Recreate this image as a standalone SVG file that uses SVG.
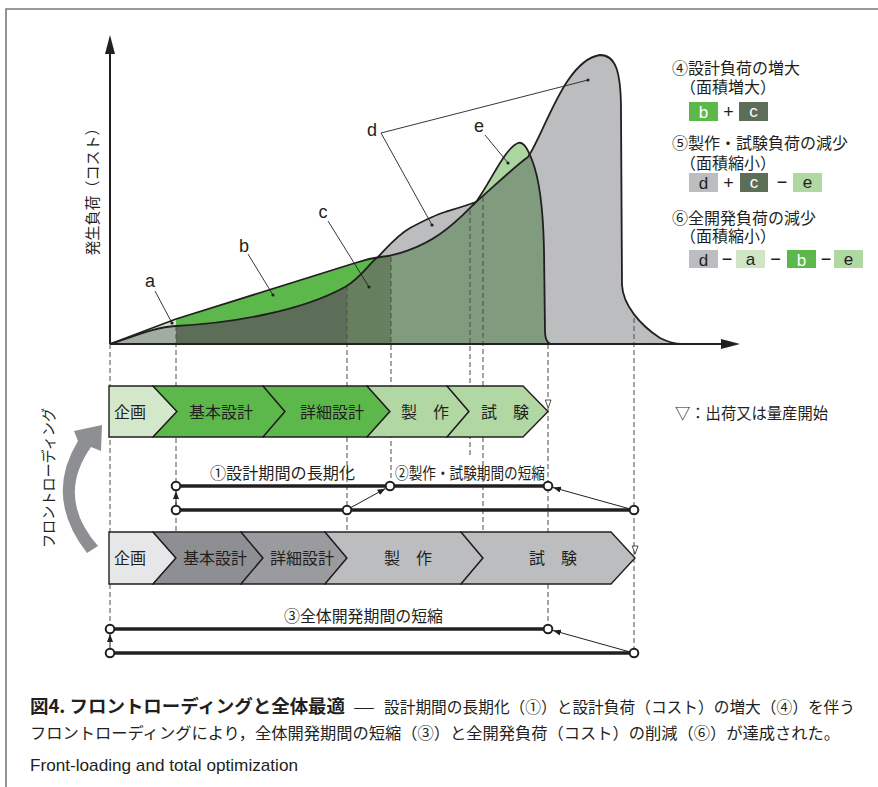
<svg xmlns="http://www.w3.org/2000/svg" width="878" height="787" viewBox="0 0 878 787">
<defs>
<style>
.jp{font-family:"Noto Sans CJK JP","Noto Sans",sans-serif;fill:#231f20}
.lat{font-family:"Liberation Sans",Arial,sans-serif;fill:#231f20}
.crv{fill:none;stroke:#231f20;stroke-width:1.8;stroke-linejoin:round}
.dash{stroke:#4d4d4f;stroke-width:1;stroke-dasharray:5 3;fill:none}
.seg{stroke:#231f20;stroke-width:1.4}
.lead{stroke:#231f20;stroke-width:0.9;fill:none}
.dot{fill:#231f20}
.thick{stroke:#231f20;stroke-width:3.5}
.pt{fill:#fff;stroke:#231f20;stroke-width:2}
.thin{stroke:#231f20;stroke-width:1;marker-end:url(#ah)}
.bx{font-size:17px;text-anchor:middle}
.op{font-family:"Liberation Sans",Arial,sans-serif;font-size:18px;fill:#231f20;text-anchor:middle}
.bar{font-size:16px;text-anchor:middle}
.lg{font-size:16px}
.tri{fill:#fff;stroke:#231f20;stroke-width:0.8}
</style>
<marker id="ah" viewBox="0 0 8 6" refX="8" refY="3" markerWidth="8" markerHeight="6" markerUnits="userSpaceOnUse" orient="auto"><path d="M0,0 L8,3 L0,6 Z" fill="#231f20"/></marker>
<clipPath id="cNew"><path d="M110,344 L176,319 L355,263 C366,259 372,258 380,257 C395,256 420,248 440,234 C455,224 465,213 476,202 C490,183 505,148 518,143 C524,141 528,150 532,160 C538,175 543,200 544,250 L545,330 C545,338 547,344 552,344 Z"/></clipPath>
<clipPath id="cOld"><path d="M110,344 C135,336 155,327 176,326 C230,323 300,312 345,287 C362,277 370,262 378,257 C386,249 396,236 410,228 C425,220 435,215 445,212 C458,208 468,205 476,202 C490,190 515,166 528,157 C545,132 565,60 600,55 C615,55 621,70 621,110 L622,285 C623,305 640,325 660,338 C668,342 675,344 682,344 Z"/></clipPath>
</defs>
<rect width="878" height="787" fill="#fff"/>
<g id="frame" stroke="#7a7a7a" stroke-width="1.6" fill="none">
<path d="M6,787 L6,9 L878,9"/>
</g>

<g id="chart">
<path d="M110,344 C135,336 155,327 176,326 C230,323 300,312 345,287 C362,277 370,262 378,257 C386,249 396,236 410,228 C425,220 435,215 445,212 C458,208 468,205 476,202 C490,190 515,166 528,157 C545,132 565,60 600,55 C615,55 621,70 621,110 L622,285 C623,305 640,325 660,338 C668,342 675,344 682,344 Z" fill="#bcbdbf"/>
<g clip-path="url(#cNew)">
<rect x="105" y="100" width="71" height="250" fill="#cde4c4"/>
<rect x="176" y="100" width="215" height="250" fill="#5db84c"/>
<rect x="391" y="100" width="170" height="250" fill="#acd6a0"/>
</g>
<g clip-path="url(#cOld)"><g clip-path="url(#cNew)">
<rect x="105" y="100" width="71" height="250" fill="#a0ada0"/>
<rect x="176" y="100" width="171" height="250" fill="#5c6e58"/>
<rect x="347" y="100" width="44" height="250" fill="#66805f"/>
<rect x="391" y="100" width="170" height="250" fill="#819b7e"/>
</g></g>
</g>

<g id="guides">
<line class="dash" x1="110" y1="344" x2="110" y2="629"/>
<line class="dash" x1="176" y1="326" x2="176" y2="558"/>
<line class="dash" x1="347" y1="286" x2="347" y2="386"/>
<line class="dash" x1="347" y1="437" x2="347" y2="558"/>
<line class="dash" x1="391" y1="257" x2="391" y2="486"/>
<line class="dash" x1="470" y1="210" x2="470" y2="455"/>
<line class="dash" x1="483" y1="197" x2="483" y2="558"/>
<line class="dash" x1="548" y1="344" x2="548" y2="532"/>
<line class="dash" x1="548" y1="584" x2="548" y2="629"/>
<line class="dash" x1="634" y1="318" x2="634" y2="653"/>
</g>

<g id="curves">
<path class="crv" d="M110,344 C135,336 155,327 176,326 C230,323 300,312 345,287 C362,277 370,262 378,257 C386,249 396,236 410,228 C425,220 435,215 445,212 C458,208 468,205 476,202 C490,190 515,166 528,157 C545,132 565,60 600,55 C615,55 621,70 621,110 L622,285 C623,305 640,325 660,338 C668,342 675,344 682,344"/>
<path class="crv" d="M110,344 L176,319 L355,263 C366,259 372,258 380,257 C395,256 420,248 440,234 C455,224 465,213 476,202 C490,183 505,148 518,143 C524,141 528,150 532,160 C538,175 543,200 544,250 L545,330 C545,338 547,344 552,344"/>
</g>

<g id="axes">
<line x1="110" y1="344" x2="110" y2="50" stroke="#231f20" stroke-width="2"/>
<polygon points="110,35 105,54 115,54" fill="#231f20"/>
<line x1="110" y1="344" x2="725" y2="344" stroke="#231f20" stroke-width="2"/>
<polygon points="740,344 721,339 721,349" fill="#231f20"/>
<text class="jp" font-size="15" text-anchor="middle" transform="translate(98,188) rotate(-90)">発生負荷（コスト）</text>
</g>

<g id="labels">
<text class="lat" x="150" y="287" font-size="18" text-anchor="middle">a</text>
<line class="lead" x1="155" y1="291" x2="172" y2="323"/><circle class="dot" cx="172" cy="323" r="1.6"/>
<text class="lat" x="244" y="252" font-size="18" text-anchor="middle">b</text>
<line class="lead" x1="248" y1="254" x2="273" y2="295"/><circle class="dot" cx="273" cy="295" r="1.6"/>
<text class="lat" x="323" y="218" font-size="18" text-anchor="middle">c</text>
<line class="lead" x1="328" y1="221" x2="369" y2="287"/><circle class="dot" cx="369" cy="287" r="1.6"/>
<text class="lat" x="372" y="136" font-size="18" text-anchor="middle">d</text>
<path class="lead" d="M588,80 L381,133 L432,225"/><circle class="dot" cx="588" cy="80" r="1.6"/><circle class="dot" cx="432" cy="225" r="1.6"/>
<text class="lat" x="479" y="132" font-size="18" text-anchor="middle">e</text>
<line class="lead" x1="485" y1="135" x2="508" y2="163"/><circle class="dot" cx="508" cy="163" r="1.6"/>
</g>

<g id="legend">
<text class="jp lg"><tspan x="672" y="74">④設計負荷の増大</tspan><tspan x="680" y="93">（面積増大）</tspan></text>
<rect x="689" y="102" width="29" height="19" fill="#5db84c"/><text class="lat bx" x="703.5" y="118" style="fill:#fff">b</text>
<text class="op" x="728.5" y="118">+</text>
<rect x="739" y="102" width="29" height="19" fill="#5c6e58"/><text class="lat bx" x="753.5" y="116.5" style="fill:#fff">c</text>

<text class="jp lg"><tspan x="672" y="149">⑤製作・試験負荷の減少</tspan><tspan x="680" y="169">（面積縮小）</tspan></text>
<rect x="689" y="173" width="29" height="19" fill="#bcbdbf"/><text class="lat bx" x="703.5" y="189">d</text>
<text class="op" x="728.5" y="189">+</text>
<rect x="740" y="173" width="28" height="19" fill="#5c6e58"/><text class="lat bx" x="754" y="187.5" style="fill:#fff">c</text>
<text class="op" x="782" y="188">−</text>
<rect x="793" y="173" width="29" height="19" fill="#b0d8a2"/><text class="lat bx" x="807.5" y="187.5">e</text>

<text class="jp lg"><tspan x="672" y="224">⑥全開発負荷の減少</tspan><tspan x="680" y="242">（面積縮小）</tspan></text>
<rect x="689" y="250" width="29" height="18" fill="#bcbdbf"/><text class="lat bx" x="703.5" y="266">d</text>
<text class="op" x="727" y="265">−</text>
<rect x="736" y="250" width="29" height="18" fill="#cfe5c6"/><text class="lat bx" x="750.5" y="264.5">a</text>
<text class="op" x="775.5" y="265">−</text>
<rect x="787" y="250" width="29" height="18" fill="#5db84c"/><text class="lat bx" x="801.5" y="266" style="fill:#fff">b</text>
<text class="op" x="826" y="265">−</text>
<rect x="834" y="250" width="29" height="18" fill="#b0d8a2"/><text class="lat bx" x="848.5" y="264.5">e</text>

<text class="jp" x="675" y="419" font-size="15.5" textLength="153" lengthAdjust="spacingAndGlyphs">▽：出荷又は量産開始</text>
</g>

<g id="new-process">
<g id="n-kikaku"><path class="seg" d="M109,386 L153,386 L177,411.5 L153,437 L109,437 Z" fill="#d3e8cb"/><text class="jp bar" x="130" y="417.5">企画</text></g>
<g id="n-kihon"><path class="seg" d="M153,386 L263,386 L285,411.5 L263,437 L153,437 L177,411.5 Z" fill="#5db84c"/><text class="jp bar" x="221" y="417.5">基本設計</text></g>
<g id="n-shosai"><path class="seg" d="M263,386 L367,386 L390,411.5 L367,437 L263,437 L285,411.5 Z" fill="#5db84c"/><text class="jp bar" x="332" y="417.5">詳細設計</text></g>
<g id="n-seisaku"><path class="seg" d="M367,386 L447,386 L469,411.5 L447,437 L367,437 L390,411.5 Z" fill="#b1d8a3"/><text class="jp bar" x="425" y="417.5">製　作</text></g>
<g id="n-shiken"><path class="seg" d="M447,386 L523,386 L548,411.5 L523,437 L447,437 L469,411.5 Z" fill="#b1d8a3"/><text class="jp bar" x="505" y="417.5">試　験</text></g>
<polygon class="tri" points="545.3,400 551,400 548.2,408"/>
</g>

<g id="old-process">
<g id="o-kikaku"><path class="seg" d="M109,532 L153,532 L176,558 L153,584 L109,584 Z" fill="#e6e7e8"/><text class="jp bar" x="130" y="563.5">企画</text></g>
<g id="o-kihon"><path class="seg" d="M153,532 L241,532 L263,558 L241,584 L153,584 L176,558 Z" fill="#8e8f92"/><text class="jp bar" x="215" y="563.5">基本設計</text></g>
<g id="o-shosai"><path class="seg" d="M241,532 L325,532 L347,558 L325,584 L241,584 L263,558 Z" fill="#9a9b9e"/><text class="jp bar" x="302" y="563.5">詳細設計</text></g>
<g id="o-seisaku"><path class="seg" d="M325,532 L461,532 L483,558 L461,584 L325,584 L347,558 Z" fill="#bcbdbf"/><text class="jp bar" x="408" y="563.5">製　作</text></g>
<g id="o-shiken"><path class="seg" d="M461,532 L611,532 L635,558 L611,584 L461,584 L483,558 Z" fill="#bcbdbf"/><text class="jp bar" x="553" y="563.5">試　験</text></g>
<polygon class="tri" points="632.2,546 638,546 635.1,554"/>
</g>

<g id="frontloading">
<path d="M87,553 Q43.5,497 78,441 L74,431 L102,425 L101,451 L91,447 Q55.5,497.5 98,546 Z" fill="#8e8f92"/>
<text class="jp" font-size="15" text-anchor="middle" textLength="140" lengthAdjust="spacingAndGlyphs" transform="translate(54,478) rotate(-90)">フロントローディング</text>
</g>

<g id="connectors">
<line class="thick" x1="176" y1="486" x2="548" y2="486"/>
<line class="thick" x1="176" y1="510" x2="634" y2="510"/>
<line class="thin" x1="176" y1="505" x2="176" y2="491"/>
<line class="thin" x1="351" y1="507.5" x2="385.5" y2="488.5"/>
<line class="thin" x1="629.5" y1="508.8" x2="553" y2="487.5"/>
<circle class="pt" cx="176" cy="486" r="4.3"/>
<circle class="pt" cx="390" cy="486" r="4.3"/>
<circle class="pt" cx="548" cy="486" r="4.3"/>
<circle class="pt" cx="176" cy="510" r="4.3"/>
<circle class="pt" cx="347" cy="510" r="4.3"/>
<circle class="pt" cx="634" cy="510" r="4.3"/>
<text class="jp" x="210" y="479" font-size="16" textLength="145" lengthAdjust="spacingAndGlyphs">①設計期間の長期化</text>
<text class="jp" x="395" y="479" font-size="16" textLength="150" lengthAdjust="spacingAndGlyphs">②製作・試験期間の短縮</text>

<line class="thick" x1="110" y1="629" x2="548" y2="629"/>
<line class="thick" x1="110" y1="653" x2="634" y2="653"/>
<line class="thin" x1="110" y1="648" x2="110" y2="634"/>
<line class="thin" x1="629.5" y1="651.8" x2="553" y2="630.5"/>
<circle class="pt" cx="110" cy="629" r="4.3"/>
<circle class="pt" cx="548" cy="629" r="4.3"/>
<circle class="pt" cx="110" cy="653" r="4.3"/>
<circle class="pt" cx="634" cy="653" r="4.3"/>
<text class="jp" x="284" y="622" font-size="16" textLength="159" lengthAdjust="spacingAndGlyphs">③全体開発期間の短縮</text>
</g>

<g id="caption">
<text class="jp" x="30" y="713" font-size="18" font-weight="bold" textLength="315" lengthAdjust="spacingAndGlyphs">図4. フロントローディングと全体最適</text>
<text class="jp" x="353" y="713" font-size="16" textLength="22" lengthAdjust="spacingAndGlyphs">—</text>
<text class="jp" x="384" y="713" font-size="16" textLength="471" lengthAdjust="spacingAndGlyphs">設計期間の長期化（①）と設計負荷（コスト）の増大（④）を伴う</text>
<text class="jp" x="30" y="739" font-size="16" textLength="810" lengthAdjust="spacingAndGlyphs">フロントローディングにより，全体開発期間の短縮（③）と全開発負荷（コスト）の削減（⑥）が達成された。</text>
<text class="lat" x="30" y="771" font-size="17" textLength="268" lengthAdjust="spacingAndGlyphs">Front-loading and total optimization</text>
</g>
</svg>
